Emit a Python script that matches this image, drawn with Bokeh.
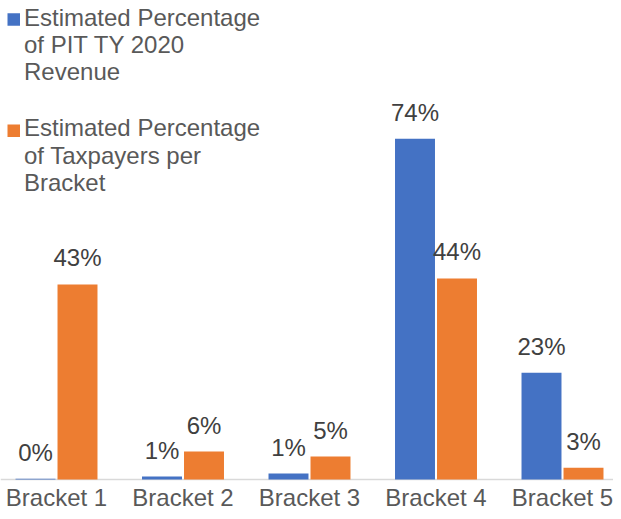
from bokeh.plotting import figure
from bokeh.models import ColumnDataSource, Label, BoxAnnotation, Range1d, Span
from bokeh.core.properties import value
from bokeh.embed import file_html
from bokeh.resources import INLINE

# ---- data ----
categories = ["Bracket 1", "Bracket 2", "Bracket 3", "Bracket 4", "Bracket 5"]
revenue_pct = [0.15, 0.65, 1.3, 74.4, 23.3]      # Estimated Percentage of PIT TY 2020 Revenue
taxpayer_pct = [42.6, 6.1, 5.0, 43.9, 2.55]      # Estimated Percentage of Taxpayers per Bracket
legend_lines = [["Estimated Percentage", "of PIT TY 2020", "Revenue"],
                ["Estimated Percentage", "of Taxpayers per", "Bracket"]]

BLUE = "#4472C4"
ORANGE = "#ED7D31"
FONT = "Liberation Sans"

W, H = 613, 511
BASE = 479                 # pixel row of the zero line
PX_PER_CAT = 126.5
FIRST_CENTER = 56
PX_PER_PCT = 4.58
TXT_FIX = 9.5              # rendered text sits lower than requested by this much

X0 = -FIRST_CENTER / PX_PER_CAT
X1 = (W - FIRST_CENTER) / PX_PER_CAT
Y1 = BASE / PX_PER_PCT
Y0 = -(H - BASE) / PX_PER_PCT

def px(xp):
    return X0 + xp / W * (X1 - X0)

def py(yp):
    return Y1 - yp / H * (Y1 - Y0)

p = figure(width=W, height=H, output_backend="svg", toolbar_location=None,
           x_range=Range1d(X0, X1), y_range=Range1d(Y0, Y1),
           x_axis_location=None, y_axis_location=None,
           min_border_left=0, min_border_right=0, min_border_top=0, min_border_bottom=0)
p.outline_line_color = None
p.grid.visible = False
p.background_fill_color = "white"
p.border_fill_color = "white"

p.add_layout(Span(location=0, dimension="width", line_color="#D9D9D9",
                  line_width=1.5, level="underlay"))

idx = list(range(len(categories)))
bw = 0.316
off = 0.166
src_a = ColumnDataSource(dict(x=[i - off for i in idx], top=revenue_pct,
                              label=[f"{round(v)}%" for v in revenue_pct]))
src_b = ColumnDataSource(dict(x=[i + off for i in idx], top=taxpayer_pct,
                              label=[f"{round(v)}%" for v in taxpayer_pct]))

p.vbar(x="x", top="top", bottom=0, width=bw, source=src_a, fill_color=BLUE, line_color=None)
p.vbar(x="x", top="top", bottom=0, width=bw, source=src_b, fill_color=ORANGE, line_color=None)

for src in (src_a, src_b):
    p.text(x="x", y="top", text="label", source=src, text_align="center",
           text_baseline="alphabetic", y_offset=-17 - TXT_FIX, text_font=value(FONT),
           text_font_size="24px", text_color="#404040")

# category labels
cat_src = ColumnDataSource(dict(x=idx, y=[0] * len(idx), text=categories))
p.text(x="x", y="y", text="text", source=cat_src, text_align="center",
       text_baseline="alphabetic", y_offset=27 - TXT_FIX, text_font=value(FONT),
       text_font_size="24px", text_color="#595959")

# legend (manual, multi-line)
sq_tops = [12.7, 124]
base_lines = [[26, 53.3, 80.6], [136.7, 164, 191.3]]
for color, top, lines, bases in zip([BLUE, ORANGE], sq_tops, legend_lines, base_lines):
    p.add_layout(BoxAnnotation(left=px(7), right=px(19.5), top=py(top), bottom=py(top + 12.5),
                               fill_color=color, fill_alpha=1, line_color=None))
    for t, b in zip(lines, bases):
        p.add_layout(Label(x=px(23.5), y=py(b - TXT_FIX), text=t, text_baseline="alphabetic",
                           text_align="left", text_font=FONT, text_font_size="24px",
                           text_color="#595959"))

open("out.html", "w").write(file_html(p, INLINE))
